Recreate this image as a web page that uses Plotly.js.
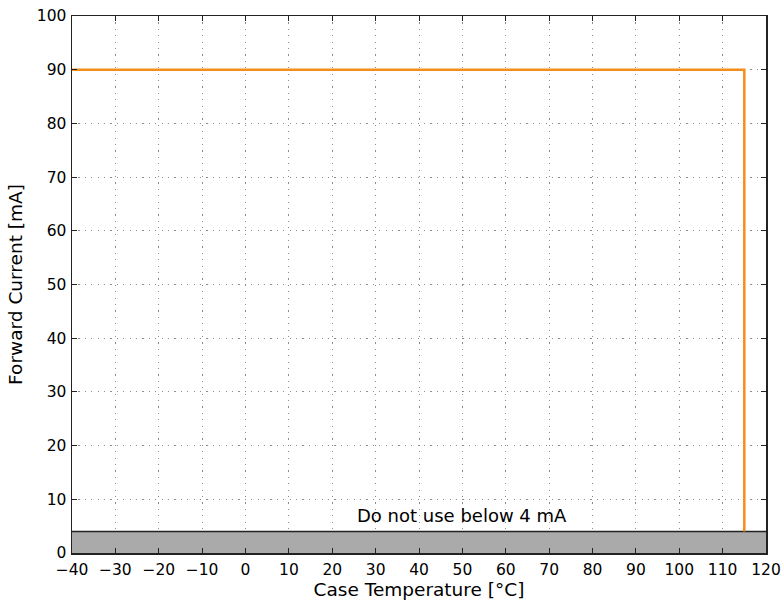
<!DOCTYPE html>
<html>
<head>
<meta charset="utf-8">
<script src="https://cdn.plot.ly/plotly-3.0.1.min.js"></script>
<style>html,body{margin:0;padding:0;background:#fff;}#chart{width:783px;height:607px;}</style>
</head>
<body>
<div id="chart"></div>
<script>
// Data
const limitTemp = [-40, 115, 115];
const limitCurrent = [90, 90, 4];
const bandTemp = [-40, 120];
const bandCurrent = [4, 4];
const minCurrent = 4;
const noteText = "Do not use below 4 mA";
const noteX = 50;
const noteY = 4.6;
const xTicks = [-40,-30,-20,-10,0,10,20,30,40,50,60,70,80,90,100,110,120];
const xTickText = ["\u221240","\u221230","\u221220","\u221210","0","10","20","30","40","50","60","70","80","90","100","110","120"];
const yTicks = [0,10,20,30,40,50,60,70,80,90,100];

const traces = [
  {x: bandTemp, y: [0, 0], mode: 'lines', line: {width: 0, color: '#a9a9a9'}, showlegend: false, hoverinfo: 'skip'},
  {x: bandTemp, y: bandCurrent, mode: 'lines', fill: 'tonexty', fillcolor: '#aaaaaa', line: {width: 1.5, color: '#222'}, showlegend: false, hoverinfo: 'skip'},
  {x: limitTemp, y: limitCurrent, mode: 'lines', line: {color: '#f28e1c', width: 2.5}, showlegend: false}
];

const axisCommon = {
  showline: true, mirror: 'allticks', linecolor: '#222', linewidth: 1.5,
  ticks: 'inside', ticklen: 5, tickcolor: '#222', tickwidth: 1,
  showgrid: true, gridcolor: '#8c8c8c', griddash: '1.2px,5.2px', gridwidth: 1,
  zeroline: false,
  tickfont: {family: 'DejaVu Sans', size: 15.5, color: '#000'}
};

const layout = {
  width: 783, height: 607,
  margin: {l: 72, r: 17, t: 16, b: 54},
  paper_bgcolor: '#fff', plot_bgcolor: '#fff',
  xaxis: Object.assign({}, axisCommon, {
    range: [-40, 120], tickvals: xTicks, ticktext: xTickText, ticklabelstandoff: 2,
    title: {text: 'Case Temperature [°C]', font: {family: 'DejaVu Sans', size: 18.5, color: '#000'}, standoff: 5}
  }),
  yaxis: Object.assign({}, axisCommon, {
    range: [0, 100], tickvals: yTicks, ticklabelstandoff: 1,
    title: {text: 'Forward Current [mA]', font: {family: 'DejaVu Sans', size: 18.5, color: '#000'}, standoff: 9}
  }),
  annotations: [{
    x: noteX, y: noteY, xref: 'x', yref: 'y', text: noteText, showarrow: false,
    xanchor: 'center', yanchor: 'bottom',
    font: {family: 'DejaVu Sans', size: 18, color: '#000'}
  }]
};

Plotly.newPlot('chart', traces, layout, {displayModeBar: false, staticPlot: true});
</script>
</body>
</html>
